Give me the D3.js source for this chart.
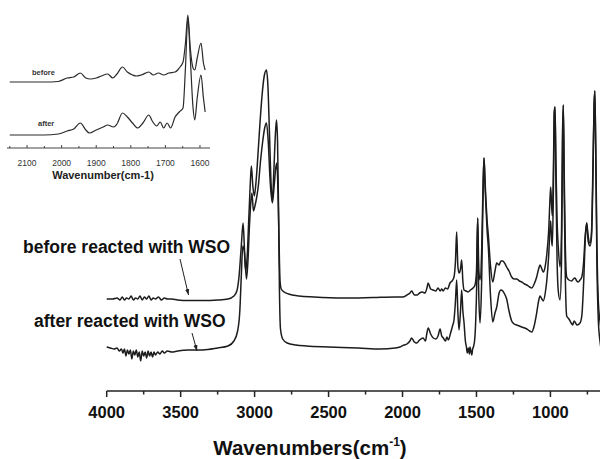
<!DOCTYPE html>
<html><head><meta charset="utf-8">
<script src="https://cdn.jsdelivr.net/npm/d3@7"></script>
<style>body{margin:0;background:#fff}svg{display:block}text{font-family:Arial,"Liberation Sans",sans-serif}</style>
</head><body><svg id="c" width="600" height="459"></svg>
<script>
// ---- main spectrum data (wavenumber, absorbance a.u.) ----
const beforeWn = [4000,3960,3930,3910,3895,3880,3865,3850,3835,3820,3805,3790,3775,3760,3745,3730,3715,3700,3685,3670,3650,3630,3610,3590,3560,3520,3450,3350,3250,3180,3140,3120,3105,3090,3078,3068,3055,3045,3035,3025,3018,3008,2998,2988,2975,2960,2945,2932,2920,2908,2895,2880,2868,2858,2850,2842,2835,2828,2820,2800,2770,2700,2600,2400,2200,2050,2000,1970,1950,1938,1920,1902,1885,1868,1848,1835,1827,1810,1793,1775,1760,1745,1735,1726,1710,1695,1679,1665,1652,1642,1634,1626,1618,1608,1600,1592,1584,1570,1557,1540,1523,1510,1500,1492,1484,1476,1465,1455,1449,1442,1436,1428,1420,1405,1390,1375,1363,1347,1335,1322,1310,1296,1280,1262,1245,1228,1210,1194,1175,1160,1140,1126,1110,1093,1080,1070,1058,1048,1035,1025,1012,1002,998,992,987,980,974,969,963,955,947,935,925,918,913,907,900,890,875,856,845,834,822,812,800,788,775,765,755,745,732,722,712,705,700,694,686,676,665,655];
const beforeAbs = [0.92,0.92,0.93,0.91,0.94,0.91,0.93,0.92,0.95,0.91,0.93,0.92,0.95,0.91,0.94,0.92,0.95,0.91,0.93,0.92,0.94,0.91,0.93,0.92,0.92,0.91,0.905,0.905,0.91,0.92,0.95,1.0,1.15,1.45,1.68,1.4,1.12,1.3,1.65,1.9,1.98,1.8,1.85,1.92,2.05,2.3,2.5,2.63,2.68,2.5,2.1,1.88,2.05,2.22,2.28,2.0,1.5,1.1,1.02,0.99,0.97,0.95,0.94,0.93,0.935,0.94,0.94,0.96,0.98,1.0,0.96,0.96,0.98,0.99,0.98,1.03,1.08,1.02,1.01,1.0,1.03,1.0,1.02,1.0,1.03,1.02,1.08,1.1,1.14,1.3,1.59,1.25,1.18,1.22,1.31,1.1,1.01,1.0,0.99,1.01,1.03,1.06,1.2,1.73,1.2,1.11,1.4,2.1,2.33,2.1,1.91,1.7,1.56,1.25,1.09,1.2,1.28,1.26,1.3,1.3,1.28,1.24,1.2,1.14,1.12,1.12,1.1,1.09,1.07,1.06,1.04,1.03,1.07,1.14,1.22,1.26,1.22,1.19,1.25,1.36,1.6,1.95,2.04,1.85,1.75,2.2,2.8,2.84,2.3,1.7,1.44,1.24,1.6,2.6,2.86,2.2,1.5,1.14,1.11,1.1,1.12,1.13,1.1,1.09,1.11,1.14,1.3,1.55,1.68,1.55,1.48,1.6,2.3,2.85,3.0,2.5,1.5,0.89,0.7,0.6];
const afterWn = [4000,3975,3950,3930,3915,3900,3890,3880,3870,3860,3850,3840,3830,3820,3810,3800,3790,3780,3770,3760,3750,3740,3730,3720,3710,3700,3690,3680,3670,3655,3640,3625,3610,3590,3560,3520,3450,3350,3250,3180,3140,3115,3100,3090,3080,3070,3060,3050,3040,3030,3022,3012,3002,2990,2978,2965,2950,2935,2920,2910,2900,2888,2880,2870,2860,2852,2845,2838,2832,2825,2810,2780,2720,2650,2500,2300,2150,2050,2017,1990,1970,1950,1938,1920,1904,1885,1861,1845,1835,1826,1810,1792,1775,1760,1746,1735,1724,1710,1700,1690,1675,1662,1652,1642,1634,1626,1618,1608,1600,1592,1584,1575,1568,1562,1555,1548,1544,1538,1532,1526,1521,1513,1505,1498,1492,1485,1476,1465,1455,1449,1442,1436,1428,1420,1405,1390,1375,1363,1347,1335,1322,1310,1296,1280,1262,1245,1228,1210,1194,1175,1160,1140,1126,1110,1093,1080,1070,1058,1048,1035,1025,1012,1002,998,992,987,980,974,969,963,955,947,935,925,918,913,907,900,890,875,860,850,840,830,820,800,788,775,765,755,745,732,722,712,705,700,694,686,676,665,655];
const afterAbs = [0.44,0.43,0.42,0.43,0.40,0.42,0.38,0.42,0.35,0.41,0.37,0.41,0.32,0.40,0.36,0.41,0.34,0.39,0.30,0.40,0.35,0.39,0.33,0.40,0.35,0.39,0.34,0.39,0.36,0.39,0.37,0.40,0.38,0.40,0.39,0.40,0.41,0.41,0.43,0.45,0.5,0.6,0.8,1.15,1.45,1.4,1.2,1.35,1.7,2.05,2.25,2.05,1.95,2.1,2.35,2.65,2.95,3.15,3.21,3.05,2.6,2.05,1.9,2.2,2.55,2.71,2.5,1.8,1.0,0.62,0.52,0.48,0.46,0.45,0.44,0.43,0.42,0.43,0.44,0.46,0.47,0.50,0.53,0.49,0.48,0.51,0.53,0.5,0.58,0.63,0.57,0.53,0.52,0.55,0.62,0.55,0.53,0.5,0.54,0.51,0.58,0.65,0.71,0.9,1.11,0.8,0.61,0.8,1.01,0.8,0.68,0.5,0.44,0.38,0.43,0.37,0.44,0.40,0.36,0.42,0.44,0.5,0.71,1.1,1.73,1.0,0.68,1.1,2.0,2.33,2.05,1.85,1.6,1.44,0.95,0.69,0.78,0.84,0.98,1.01,1.0,0.97,0.92,0.8,0.70,0.67,0.66,0.65,0.64,0.63,0.62,0.6,0.59,0.65,0.78,0.9,0.95,0.92,0.90,0.98,1.10,1.35,1.65,1.7,1.5,1.45,2.0,2.75,2.84,2.1,1.3,1.0,0.91,1.3,2.5,2.86,2.0,1.2,0.75,0.72,0.68,0.66,0.70,0.68,0.66,0.68,0.75,1.1,1.5,1.68,1.5,1.45,1.55,2.2,2.85,3.0,2.4,1.3,0.7,0.5,0.4];
const mainTicks = [4000,3500,3000,2500,2000,1500,1000];
const mainMinorTicks = [3750,3250,2750,2250,1750,1250,750];

// ---- inset data (zoom of 2150-1585 cm-1) ----
const insetBeforeWn = [2150,2100,2050,2010,1984,1965,1946,1930,1917,1900,1885,1867,1852,1840,1824,1810,1795,1785,1770,1748,1735,1720,1705,1690,1672,1660,1649,1642,1635,1628,1620,1615,1608,1597,1590,1585];
const insetBeforeAbs = [0.66,0.66,0.66,0.665,0.70,0.71,0.75,0.70,0.69,0.70,0.72,0.74,0.70,0.74,0.81,0.76,0.73,0.72,0.73,0.76,0.73,0.75,0.73,0.75,0.76,0.80,0.86,1.05,1.33,1.0,0.80,0.78,0.90,1.05,0.85,0.78];
const insetAfterWn = [2150,2100,2050,2010,1984,1965,1946,1930,1920,1900,1880,1867,1850,1840,1824,1810,1795,1780,1765,1748,1738,1725,1715,1705,1695,1685,1672,1660,1649,1642,1635,1628,1620,1615,1608,1597,1590,1585];
const insetAfterAbs = [0.13,0.13,0.13,0.14,0.17,0.19,0.25,0.18,0.15,0.18,0.21,0.23,0.21,0.24,0.35,0.31,0.25,0.20,0.25,0.33,0.27,0.22,0.26,0.20,0.25,0.20,0.31,0.36,0.40,0.80,1.30,0.9,0.40,0.28,0.5,0.73,0.5,0.36];
const insetTicks = [2100,2000,1900,1800,1700,1600];
const insetMinorTicks = [2150,2050,1950,1850,1750,1650];

const labels = {before:"before reacted with WSO", after:"after reacted with WSO", xTitle:"Wavenumbers(cm", insetTitle:"Wavenumber(cm-1)"};

const svg = d3.select("#c");
const defs = svg.append("defs");
defs.append("marker").attr("id","ah").attr("viewBox","0 0 10 10").attr("refX",10).attr("refY",5)
  .attr("markerWidth",6).attr("markerHeight",6).attr("orient","auto")
  .append("path").attr("d","M0,1.5L10,5L0,8.5Z").attr("fill","#222");

// main scales
const x = d3.scaleLinear().domain([4000,650]).range([106.7,602.2]);
const y = d3.scaleLinear().domain([0,3.3]).range([391,61]);

const line = d3.line().x(d=>x(d[0])).y(d=>y(d[1])).curve(d3.curveMonotoneX);
const pair = (a,b)=>a.map((v,i)=>[v,b[i]]);

const g = svg.append("g");
g.append("path").datum(pair(beforeWn,beforeAbs)).attr("d",line).attr("fill","none").attr("stroke","#1c1c1c").attr("stroke-width",1.5).attr("stroke-linejoin","round");
g.append("path").datum(pair(afterWn,afterAbs)).attr("d",line).attr("fill","none").attr("stroke","#1c1c1c").attr("stroke-width",1.5).attr("stroke-linejoin","round");

// main axis
const ax = svg.append("g").attr("transform","translate(0,391)");
ax.append("line").attr("x1",106.7).attr("x2",600).attr("stroke","#222").attr("stroke-width",1.5);
ax.selectAll(".mj").data(mainTicks).join("line").attr("x1",d=>x(d)).attr("x2",d=>x(d)).attr("y1",0).attr("y2",6).attr("stroke","#222").attr("stroke-width",1.5);
ax.selectAll(".mn").data(mainMinorTicks).join("line").attr("x1",d=>x(d)).attr("x2",d=>x(d)).attr("y1",0).attr("y2",3.5).attr("stroke","#222").attr("stroke-width",1.5);
ax.selectAll("text").data(mainTicks).join("text").attr("x",d=>x(d)).attr("y",26.5).attr("text-anchor","middle")
  .attr("font-size","16.5px").attr("font-weight","bold").attr("fill","#111").text(d=>d);

const t = svg.append("text").attr("x",310).attr("y",455).attr("text-anchor","middle").attr("font-size","20.5px").attr("font-weight","bold").attr("fill","#111");
t.append("tspan").text(labels.xTitle);
t.append("tspan").attr("font-size","12px").attr("dy",-9).text("-1");
t.append("tspan").attr("dy",9).text(")");

// annotations
svg.append("text").attr("x",23).attr("y",253).attr("font-size","17.5px").attr("font-weight","bold").attr("fill","#111").text(labels.before);
svg.append("text").attr("x",34).attr("y",327).attr("font-size","17.5px").attr("font-weight","bold").attr("fill","#111").text(labels.after);
svg.append("line").attr("x1",180).attr("y1",259).attr("x2",188.5).attr("y2",295).attr("stroke","#222").attr("stroke-width",1).attr("marker-end","url(#ah)");
svg.append("line").attr("x1",192).attr("y1",333).attr("x2",197).attr("y2",351).attr("stroke","#222").attr("stroke-width",1).attr("marker-end","url(#ah)");

// inset
const xi = d3.scaleLinear().domain([2158,1571]).range([7,210]);
const yi = d3.scaleLinear().domain([0,1.4]).range([148,8]);
const linei = d3.line().x(d=>xi(d[0])).y(d=>yi(d[1])).curve(d3.curveMonotoneX);
const gi = svg.append("g");
gi.append("path").datum(pair(insetBeforeWn,insetBeforeAbs)).attr("d",linei).attr("fill","none").attr("stroke","#2a2a2a").attr("stroke-width",1.2);
gi.append("path").datum(pair(insetAfterWn,insetAfterAbs)).attr("d",linei).attr("fill","none").attr("stroke","#2a2a2a").attr("stroke-width",1.2);
gi.append("line").attr("x1",7).attr("x2",210).attr("y1",148).attr("y2",148).attr("stroke","#444").attr("stroke-width",1);
gi.selectAll(".imj").data(insetTicks).join("line").attr("x1",d=>xi(d)).attr("x2",d=>xi(d)).attr("y1",148).attr("y2",145).attr("stroke","#444");
gi.selectAll(".imn").data(insetMinorTicks).join("line").attr("x1",d=>xi(d)).attr("x2",d=>xi(d)).attr("y1",148).attr("y2",146).attr("stroke","#444");
gi.selectAll(".itl").data(insetTicks).join("text").attr("x",d=>xi(d)).attr("y",166).attr("text-anchor","middle").attr("font-size","8.5px").attr("fill","#333").text(d=>d);
gi.append("text").attr("x",103).attr("y",179).attr("text-anchor","middle").attr("font-size","11px").attr("font-weight","bold").attr("fill","#222").text(labels.insetTitle);
gi.append("text").attr("x",32).attr("y",74.5).attr("font-size","7.5px").attr("font-weight","bold").attr("fill","#333").text("before");
gi.append("text").attr("x",38).attr("y",125.5).attr("font-size","7.5px").attr("font-weight","bold").attr("fill","#333").text("after");
</script></body></html>
